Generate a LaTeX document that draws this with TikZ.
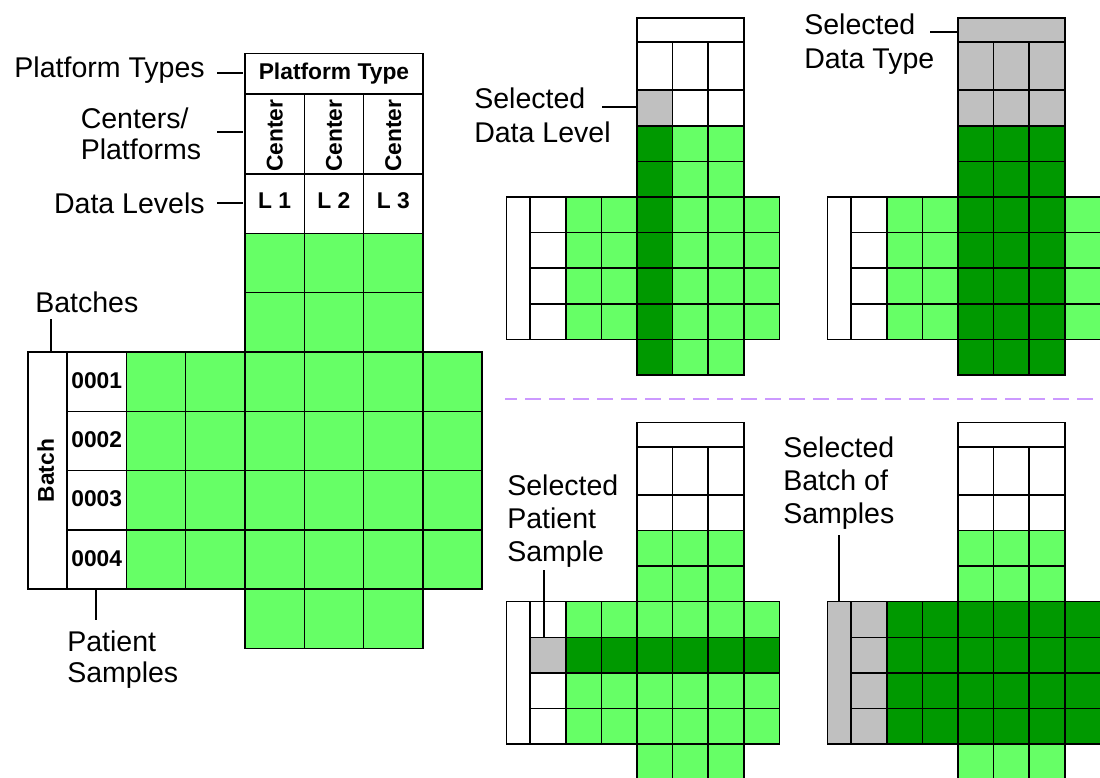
\documentclass[tikz,border=0pt]{standalone}
\usepackage{fontspec}
\setmainfont{Liberation Sans}
\definecolor{lg}{HTML}{66FF66}
\definecolor{dg}{HTML}{009900}
\definecolor{gr}{HTML}{C0C0C0}
\definecolor{dashc}{HTML}{CC99FF}
\newcommand\cubegrid{%
  \draw[cl,fill=white] (0,-5.03) rectangle (3,-4.35);
  \foreach \i in {0,1,2}{%
    \draw[cl,fill=white] (\i,-4.35) rectangle (\i+1,-3);
    \draw[cl,fill=white] (\i,-3) rectangle (\i+1,-2);
    \draw[cl,fill=lg] (\i,-2) rectangle (\i+1,-1);
    \draw[cl,fill=lg] (\i,-1) rectangle (\i+1,0);
    \draw[cl,fill=lg] (\i,4) rectangle (\i+1,5);
  }
  \foreach \r in {0,1,2,3}{%
    \draw[cl,fill=white] (-3,\r) rectangle (-2,\r+1);
    \foreach \j in {-2,...,3}{\draw[cl,fill=lg] (\j,\r) rectangle (\j+1,\r+1);}
  }
  \draw[cl,fill=white] (-3.66,0) rectangle (-3,4);
}
\tikzset{
  cl/.style={draw=black, line width=1.1pt},
  lbl/.style={font=\fontsize{21.4}{24.75}\selectfont, inner sep=0pt, align=left},
  bl/.style={font=\bfseries\fontsize{17.1}{20}\selectfont, inner sep=0pt},
  leader/.style={draw=black, line width=2pt},
  bigcell/.style={x=44.475pt, y=-44.475pt},
  smallcell/.style={x=26.7pt, y=-26.7pt}
}
\begin{document}
\begin{tikzpicture}[x=0.75pt, y=-0.75pt]
\useasboundingbox (0,0) rectangle (1100,778);
\clip (0,0) rectangle (1100,778);
\fill[white] (0,0) rectangle (1100,778);

% ---------- big diagram ----------
\begin{scope}[shift={(245,352)}, bigcell]
  \cubegrid
  \node[bl] (ptype) at (1.5,-4.69) {Platform Type};
  \foreach \i/\n in {0/1,1/2,2/3}{%
    \node[bl, rotate=90] (cen\n) at (\i+0.5,-3.65) {Center};
    \node[bl, anchor=base] (lev\n) at (\i+0.5,-2.42) {L \n};
  }
  \foreach \r/\n in {0/0001,1/0002,2/0003,3/0004}{%
    \node[bl, anchor=base] (s\n) at (-2.5,\r+0.61) {\n};
  }
  \node[bl, rotate=90] (batch) at (-3.36,2) {Batch};
\end{scope}

% labels for big diagram
\node[lbl, anchor=base east] (lpt) at (205,77) {Platform Types};
\node[lbl, anchor=base west, font=\fontsize{21.4}{23.25}\selectfont] (lcp) at (80.5,159) {Centers/\\Platforms};
\node[lbl, anchor=base east] (ldl) at (205,213) {Data Levels};
\node[lbl, anchor=base west] (lbt) at (35,312) {Batches};
\node[lbl, anchor=base west, font=\fontsize{21.4}{23.25}\selectfont] (lps) at (67,682) {Patient\\Samples};

\coordinate (pt1) at (217,73);  \coordinate (pt2) at (243,73);
\coordinate (cp1) at (217,132); \coordinate (cp2) at (243,132);
\coordinate (dl1) at (217,203); \coordinate (dl2) at (243,203);
\coordinate (bt1) at (51,319);  \coordinate (bt2) at (51,351);
\coordinate (ps1) at (96,590);  \coordinate (ps2) at (96,620);
\draw[leader] (pt1) -- (pt2);
\draw[leader] (cp1) -- (cp2);
\draw[leader] (dl1) -- (dl2);
\draw[leader] (bt1) -- (bt2);
\draw[leader] (ps1) -- (ps2);

% ---------- top middle: selected data level ----------
\begin{scope}[shift={(637,197)}, smallcell]
  \cubegrid
  \draw[cl,fill=gr] (0,-3) rectangle (1,-2);
  \foreach \r in {-2,...,4}{\draw[cl,fill=dg] (0,\r) rectangle (1,\r+1);}
\end{scope}
\node[lbl, anchor=base west, font=\fontsize{21.4}{25.5}\selectfont] (lsdl) at (474,142) {Selected\\Data Level};
\coordinate (sdl1) at (602,107); \coordinate (sdl2) at (636,107);
\draw[leader] (sdl1) -- (sdl2);

% ---------- top right: selected data type ----------
\begin{scope}[shift={(958,197)}, smallcell]
  \cubegrid
  \draw[cl,fill=gr] (0,-5.03) rectangle (3,-4.35);
  \foreach \i in {0,1,2}{%
    \draw[cl,fill=gr] (\i,-4.35) rectangle (\i+1,-3);
    \draw[cl,fill=gr] (\i,-3) rectangle (\i+1,-2);
    \foreach \r in {-2,...,4}{\draw[cl,fill=dg] (\i,\r) rectangle (\i+1,\r+1);}
  }
\end{scope}
\node[lbl, anchor=base west] (lsdt) at (804,68) {Selected\\Data Type};
\coordinate (sdt1) at (930,32); \coordinate (sdt2) at (957,32);
\draw[leader] (sdt1) -- (sdt2);

% ---------- separator ----------
\coordinate (sepL) at (505,399); \coordinate (sepR) at (1100,399);
\draw[dashc, line width=1.5pt, dash pattern=on 11.8pt off 6.2pt, dash phase=3pt] (sepL) -- (sepR);

% ---------- bottom middle: selected patient sample ----------
\begin{scope}[shift={(637,601.7)}, smallcell]
  \cubegrid
  \draw[cl,fill=gr] (-3,1) rectangle (-2,2);
  \foreach \j in {-2,...,3}{\draw[cl,fill=dg] (\j,1) rectangle (\j+1,2);}
\end{scope}
\node[lbl, anchor=base west] (lsps) at (507,561) {Selected\\Patient\\Sample};
\coordinate (sps1) at (544,570); \coordinate (sps2) at (544,637);
\draw[leader] (sps1) -- (sps2);

% ---------- bottom right: selected batch ----------
\begin{scope}[shift={(958,601.7)}, smallcell]
  \cubegrid
  \draw[cl,fill=gr] (-3.66,0) rectangle (-3,4);
  \foreach \r in {0,1,2,3}{%
    \draw[cl,fill=gr] (-3,\r) rectangle (-2,\r+1);
    \foreach \j in {-2,...,3}{\draw[cl,fill=dg] (\j,\r) rectangle (\j+1,\r+1);}
  }
\end{scope}
\node[lbl, anchor=base west] (lsbs) at (783,523) {Selected\\Batch of\\Samples};
\coordinate (sbs1) at (839,535); \coordinate (sbs2) at (839,602);
\draw[leader] (sbs1) -- (sbs2);
\end{tikzpicture}
\end{document}
